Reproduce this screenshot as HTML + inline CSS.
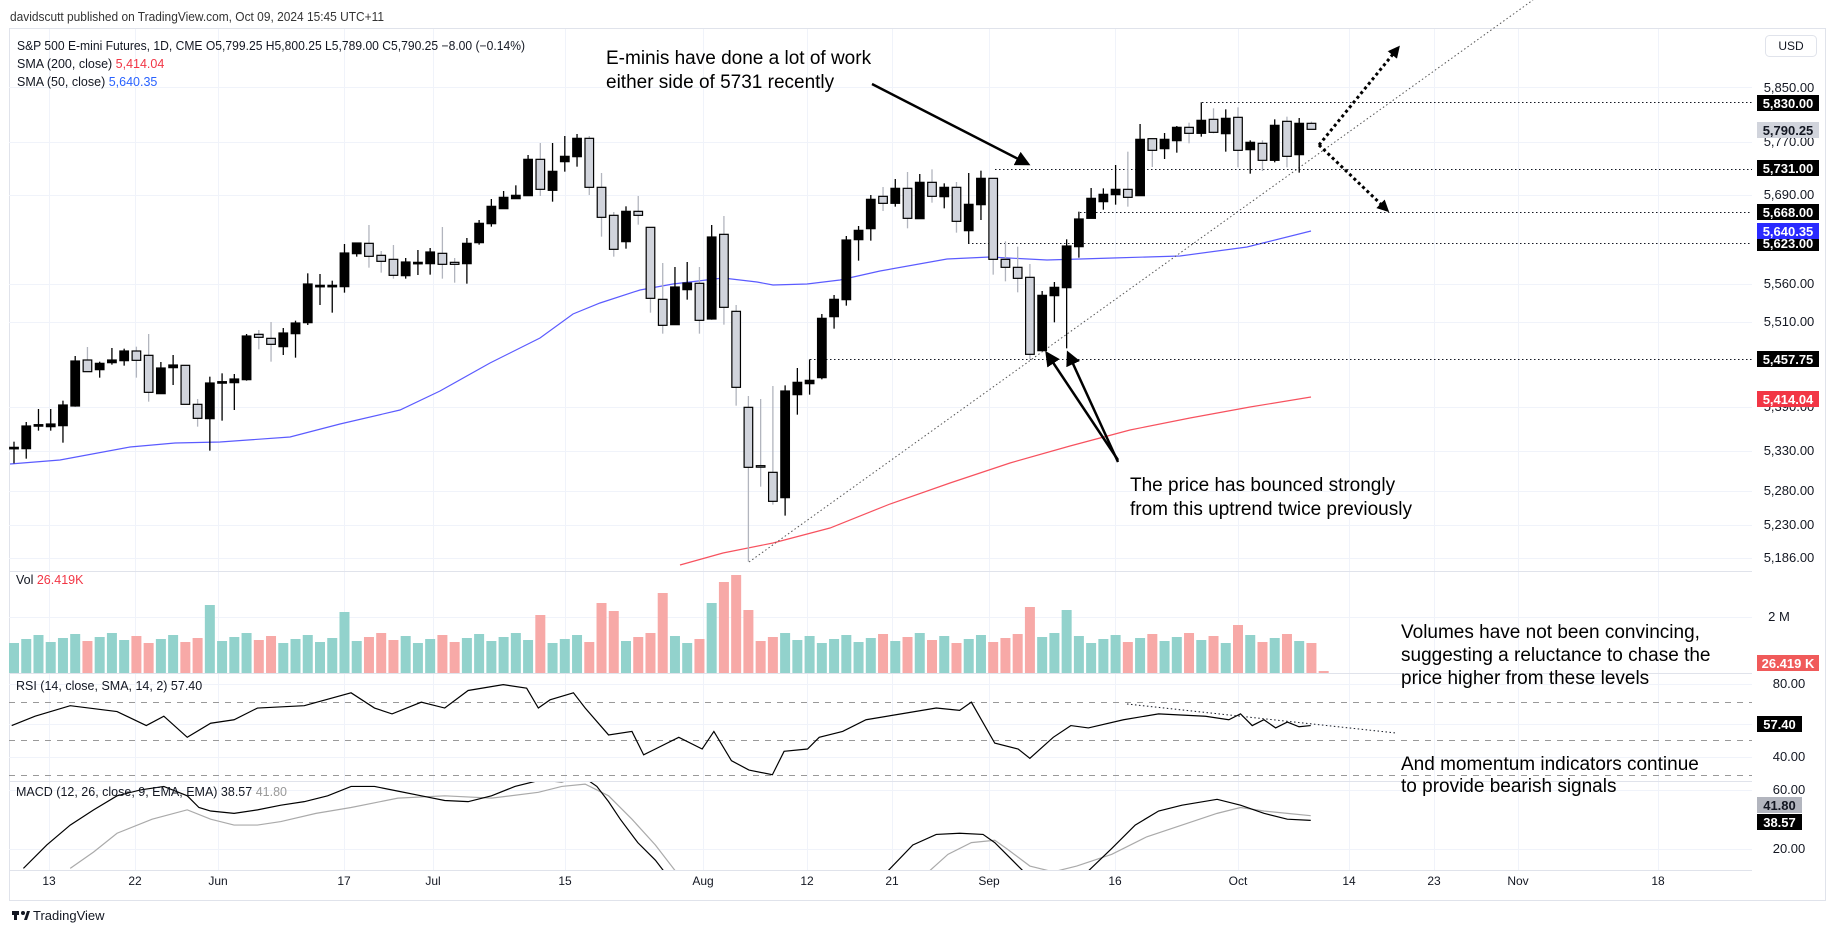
<!DOCTYPE html>
<html><head><meta charset="utf-8"><style>
html,body{margin:0;padding:0;background:#fff;}
svg{display:block;font-family:"Liberation Sans",sans-serif;}
</style></head><body>
<svg id="s" width="1835" height="931" viewBox="0 0 1835 931" xmlns="http://www.w3.org/2000/svg">
<rect width="1835" height="931" fill="#fff"/>
<text x="10" y="21" font-size="13" fill="#333" textLength="374" lengthAdjust="spacingAndGlyphs">davidscutt published on TradingView.com, Oct 09, 2024 15:45 UTC+11</text>
<rect x="9.5" y="28.5" width="1816" height="872" fill="none" stroke="#e0e3eb"/>
<g id="grid" stroke="#f0f3fa" stroke-width="1"></g>
<g stroke="#e0e3eb"><line x1="9" y1="571.5" x2="1826" y2="571.5"/><line x1="9" y1="673.5" x2="1826" y2="673.5"/><line x1="9" y1="781.5" x2="1826" y2="781.5"/><line x1="9" y1="870.5" x2="1752" y2="870.5"/></g>
<g id="vol"></g>
<g id="lines" fill="none"></g>
<g id="candles"></g>
<g id="ann"></g>
<!-- legend -->
<text x="17" y="50" font-size="12.5" fill="#131722" textLength="508" lengthAdjust="spacingAndGlyphs">S&amp;P 500 E-mini Futures, 1D, CME  O5,799.25  H5,800.25  L5,789.00  C5,790.25  −8.00 (−0.14%)</text>
<text x="17" y="68" font-size="12.5" fill="#131722">SMA (200, close) <tspan fill="#f23645">5,414.04</tspan></text>
<text x="17" y="86" font-size="12.5" fill="#131722">SMA (50, close) <tspan fill="#2962ff">5,640.35</tspan></text>
<text x="16" y="584" font-size="12.5" fill="#131722">Vol <tspan fill="#f23645">26.419K</tspan></text>
<text x="16" y="690" font-size="12.5" fill="#131722">RSI (14, close, SMA, 14, 2) <tspan>57.40</tspan></text>
<text x="16" y="796" font-size="12.5" fill="#131722">MACD (12, 26, close, 9, EMA, EMA) <tspan>38.57</tspan> <tspan fill="#999">41.80</tspan></text>
<!-- annotations text -->
<g font-size="19" fill="#000">
<text x="606" y="64">E-minis have done a lot of work</text>
<text x="606" y="88">either side of 5731 recently</text>
<text x="1130" y="491">The price has bounced strongly</text>
<text x="1130" y="515">from this uptrend twice previously</text>
<text x="1401" y="638">Volumes have not been convincing,</text>
<text x="1401" y="661">suggesting a reluctance to chase the</text>
<text x="1401" y="684">price higher from these levels</text>
<text x="1401" y="770">And momentum indicators continue</text>
<text x="1401" y="792">to provide bearish signals</text>
</g>
<!-- axis -->
<rect x="1752" y="29" width="73" height="871" fill="#fff"/>
<rect x="1765.5" y="35.5" width="51" height="21" rx="4" fill="#fff" stroke="#e0e3eb"/>
<text x="1791" y="50" font-size="12" text-anchor="middle" fill="#131722">USD</text>
<g font-size="13" fill="#131722" text-anchor="middle">
<text x="1789" y="92">5,850.00</text><text x="1789" y="146">5,770.00</text><text x="1789" y="199">5,690.00</text>
<text x="1789" y="288">5,560.00</text><text x="1789" y="326">5,510.00</text><text x="1789" y="411">5,390.00</text>
<text x="1789" y="455">5,330.00</text><text x="1789" y="495">5,280.00</text><text x="1789" y="529">5,230.00</text>
<text x="1789" y="562">5,186.00</text>
<text x="1779" y="621">2 M</text>
<text x="1789" y="688">80.00</text><text x="1789" y="761">40.00</text>
<text x="1789" y="794">60.00</text><text x="1789" y="853">20.00</text>
</g>
<g id="badges" font-size="13" font-weight="bold" text-anchor="middle"></g>
<g font-size="12" fill="#131722" text-anchor="middle">
<text x="49" y="885">13</text><text x="135" y="885">22</text><text x="218" y="885">Jun</text><text x="344" y="885">17</text>
<text x="433" y="885">Jul</text><text x="565" y="885">15</text><text x="703" y="885">Aug</text><text x="807" y="885">12</text>
<text x="892" y="885">21</text><text x="989" y="885">Sep</text><text x="1115" y="885">16</text><text x="1238" y="885">Oct</text>
<text x="1349" y="885">14</text><text x="1434" y="885">23</text><text x="1518" y="885">Nov</text><text x="1658" y="885">18</text>
</g>
<g transform="translate(12,909)"><rect x="0" y="2" width="7" height="4" fill="#131722"/><rect x="2" y="2" width="3" height="9" fill="#131722"/><circle cx="11" cy="4" r="2" fill="#131722"/><path d="M12 11 L15 2 L18 2 L15 11Z" fill="#131722"/></g>
<text x="33" y="920" font-size="13" fill="#131722">TradingView</text>
</svg>
<script>
var NS="http://www.w3.org/2000/svg";
function el(p,t,a){var e=document.createElementNS(NS,t);for(var k in a)e.setAttribute(k,a[k]);p.appendChild(e);return e;}
var g=document.getElementById('grid');
[87,142,195,284,322,407,451,491,525,558,617,684,724,757,790,849].forEach(function(y){el(g,'line',{x1:9,x2:1752,y1:y+.5,y2:y+.5});});
[49,135,218,344,433,565,703,807,892,989,1115,1238,1349,1434,1518,1658].forEach(function(x){el(g,'line',{x1:x+.5,x2:x+.5,y1:29,y2:870});});
var A=[[1012,1016,1,995,1060],[948,1016,1,936,1046],[944,948,1,897,962],[942,950,1,897,962],[885,947,1,872,998],[753,888,1,738,890],[750,785,0,711,785],[760,779,1,755,803],[750,758,1,714,764],[723,752,1,716,767],[723,751,0,710,803],[736,847,0,672,875],[774,851,1,756,851],[765,773,1,735,825],[766,883,0,766,883],[883,925,0,867,950],[819,926,1,800,1022],[815,819,1,790,932],[807,818,1,792,900],[678,809,1,672,812],[673,682,0,660,718],[685,703,0,636,755],[669,710,1,654,735],[639,671,1,632,743],[522,638,1,490,645],[526,530,1,492,585],[526,530,1,512,608],[429,530,1,402,548],[399,431,1,399,440],[400,439,0,345,473],[436,454,0,423,488],[448,496,0,405,506],[456,497,1,444,506],[457,461,1,420,495],[426,461,1,414,494],[430,463,0,351,506],
[457,463,0,444,518],[400,461,1,384,521],[340,398,1,330,404],[289,341,1,267,350],[262,296,1,243,296],[256,266,1,226,266],[148,257,1,135,257],[148,238,0,99,258],[184,241,1,99,275],[139,155,1,78,185],[85,140,1,72,170],[85,232,0,78,255],[232,322,0,189,380],[316,418,0,306,440],[304,395,1,289,416],[304,316,0,258,344],[352,565,0,352,608],[568,646,0,459,671],[531,644,1,471,644],[519,539,1,456,569],[520,631,0,471,671],[381,627,1,345,629],[373,592,0,318,644],[604,832,0,585,887],[892,1072,0,858,1355],[1067,1071,0,867,1130],[1087,1174,0,828,1184],[843,1163,1,826,1217],[817,854,1,774,914],[811,821,1,748,854],[625,803,1,612,808],[568,620,1,555,656],[390,569,1,378,587],[361,389,1,348,452],[268,356,1,255,392],[259,280,0,231,303]];
var C=[[325,370,1,297,380],[325,415,0,276,445],[307,416,1,282,416],[307,349,0,268,368],[322,350,1,310,385],[322,424,0,306,458],[373,452,1,279,490],[295,374,1,272,420],[295,538,0,295,584],[538,562,0,484,604],[562,595,0,500,637],[592,823,0,552,838],[646,812,1,633,812],[622,647,1,606,727],[498,623,1,478,805],[417,500,1,395,533],[355,415,1,324,415],[343,365,1,325,389],[328,344,1,255,374],[328,352,0,215,380],[178,347,1,132,347],[176,211,0,176,261],[178,206,1,159,237],[142,182,1,138,218],[142,160,0,128,190],[121,160,1,67,170],[118,157,0,85,160],[115,161,1,88,215],[112,211,0,82,262],[187,209,1,181,281],[190,241,0,181,273],[136,241,1,118,247],[124,229,0,110,262],[130,224,1,114,278],[130,148,0,125,148]];
var bars=[];A.forEach(function(b){bars.push(b.map(function(v,i){return i==2?v:110+v/3;}));});
C.forEach(function(b){bars.push(b.map(function(v,i){return i==2?v:80+v/3;}));});
var cg=document.getElementById('candles'),vg=document.getElementById('vol');
var spikes={17:68,28:61,44:58,49:70,50:62,54:80,58:70,59:91,60:98,61:63,84:66,87:63,101:48};
bars.forEach(function(b,i){
 var x=14+i*12.24,up=b[2]==1;
 el(cg,'line',{x1:x,x2:x,y1:b[3],y2:b[4],stroke:up?'#000':'#b2b5be','stroke-width':1.3});
 var h=Math.max(b[1]-b[0],1.5);
 el(cg,'rect',{x:x-4.3,y:b[0],width:8.6,height:h,fill:up?'#000':'#d1d4dc',stroke:'#000','stroke-width':1.2});
 var vh=spikes[i+1]||(32+((i*37)%11)-2);
 if(i==106)vh=30;
 el(vg,'rect',{x:x-5,y:673-vh,width:10,height:vh,fill:up?'#92d2cc':'#f7a9a7'});
});
el(vg,'rect',{x:14+107*12.24-5,y:671,width:10,height:2,fill:'#f7a9a7'});
var lg=document.getElementById('lines');
function pl(pts,st,w,extra){var a={points:pts.map(function(p){return p.join(',');}).join(' '),stroke:st,'stroke-width':w,fill:'none'};for(var k in extra)a[k]=extra[k];return el(lg,'polyline',a);}
pl([[10,464],[60,460],[130,447],[175,443],[220,442],[290,437],[340,424],[400,410],[440,391],[490,363],[540,338],[573,314],[600,303],[640,290],[673,284],[723,278],[757,282],[773,285],[807,284],[840,280],[880,271],[947,259],[990,257],[1047,260],[1113,258],[1180,256],[1247,247],[1311,231]],'#5b5bff',1.2);
pl([[680,565],[723,553],[773,543],[830,528],[890,504],[950,483],[1010,463],[1070,446],[1130,430],[1190,418],[1250,407],[1311,397]],'#f7525f',1.2);
var D={stroke:'#131722','stroke-width':1,'stroke-dasharray':'1.5,2.5'};
[[1202,102],[995,169],[1080,212],[968,243],[810,359]].forEach(function(p){var a={x1:p[0],x2:1752,y1:p[1]+.5,y2:p[1]+.5};for(var k in D)a[k]=D[k];el(lg,'line',a);});
var a0={x1:749,y1:562,x2:1533,y2:0};for(var k in D)a0[k]=D[k];a0.stroke='#555';el(lg,'line',a0);
[702,740,775].forEach(function(y){el(lg,'line',{x1:9,x2:1752,y1:y+.5,y2:y+.5,stroke:'#999','stroke-dasharray':'6,6'});});
var r=[[10,620],[30,612],[60,603],[100,608],[125,620],[140,612],[160,630],[180,618],[200,615],[220,605],[260,603],[300,592],[320,605],[335,610],[360,600],[380,605],[400,590],[430,585],[450,588],[460,605],[470,598],[490,592],[500,605],[520,628],[540,625],[550,645],[560,640],[580,630],[600,640],[610,625],[625,650],[640,658],[660,662],[670,642],[690,640],[700,630],[720,625],[740,615],[770,610],[800,605],[820,607],[830,600],[850,635],[870,640],[880,648],[900,630],[915,620],[930,622],[960,615],[990,610],[1030,612],[1050,615],[1060,610],[1070,620],[1080,615],[1090,622],[1100,617],[1110,621],[1120,620]];
pl(r.map(function(p){return [p[0]*1.1703,p[1]*1.1703];}),'#000',1.2);
var a1={x1:1127,y1:704,x2:1396,y2:733};for(var k in D)a1[k]=D[k];el(lg,'line',a1);
var cp=el(lg,'clipPath',{id:'mc'});el(cp,'rect',{x:9,y:782,width:1743,height:88});
var mg=el(lg,'g',{'clip-path':'url(#mc)'});
function mpl(pts,st){el(mg,'polyline',{points:pts.map(function(p){return (p[0]*1.1703)+','+(p[1]*1.1703);}).join(' '),stroke:st,'stroke-width':1.2,fill:'none'});}
mpl([[60,742],[80,728],[100,712],[130,700],[160,692],[180,700],[200,705],[220,705],[240,702],[270,695],[300,690],[340,682],[380,680],[420,682],[460,677],[480,672],[500,670],[520,680],[540,700],[560,722],[580,748]],'#aaa');
mpl([[790,748],[810,730],[830,720],[850,718],[860,725],[880,740],[900,745],[920,740],[950,730],[980,715],[1010,705],[1040,695],[1060,690],[1080,693],[1100,695],[1120,697]],'#aaa');
mpl([[20,742],[40,722],[60,705],[80,692],[100,680],[120,675],[140,672],[160,680],[170,690],[180,693],[200,695],[220,692],[240,688],[260,685],[280,680],[300,672],[320,672],[340,676],[360,680],[380,684],[400,685],[420,680],[440,672],[460,667],[480,668],[500,665],[510,672],[520,685],[530,700],[545,720],[560,735],[570,748]],'#000');
mpl([[755,748],[780,722],[800,713],[820,712],[840,713],[850,720],[860,730],[870,740],[878,748]],'#000');
mpl([[926,748],[950,725],[970,705],[990,693],[1010,688],[1040,683],[1060,688],[1080,695],[1100,700],[1120,701]],'#000');
var an=document.getElementById('ann');
var defs=el(an,'defs',{});var mk=el(defs,'marker',{id:'ah',markerWidth:6,markerHeight:6,refX:4,refY:3,orient:'auto',markerUnits:'strokeWidth'});el(mk,'path',{d:'M0,0 L6,3 L0,6 Z',fill:'#000'});
var mk2=el(defs,'marker',{id:'ah2',markerWidth:4,markerHeight:4,refX:3,refY:2,orient:'auto',markerUnits:'strokeWidth'});el(mk2,'path',{d:'M0,0 L4,2 L0,4 Z',fill:'#000'});
el(an,'line',{x1:872,y1:84,x2:1026,y2:163,stroke:'#000','stroke-width':2.5,'marker-end':'url(#ah)'});
el(an,'line',{x1:1118,y1:460,x2:1048,y2:355,stroke:'#000','stroke-width':2.5,'marker-end':'url(#ah)'});
el(an,'line',{x1:1118,y1:462,x2:1069,y2:355,stroke:'#000','stroke-width':2.5,'marker-end':'url(#ah)'});
el(an,'line',{x1:1319,y1:145,x2:1398,y2:48,stroke:'#000','stroke-width':3,'stroke-dasharray':'3,3','marker-end':'url(#ah2)'});
el(an,'line',{x1:1319,y1:145,x2:1387,y2:210,stroke:'#000','stroke-width':3,'stroke-dasharray':'3,3','marker-end':'url(#ah2)'});
var bg=document.getElementById('badges');
[[103,'5,830.00','#000','#fff'],[130,'5,790.25','#d1d4dc','#131722'],[168,'5,731.00','#000','#fff'],[212,'5,668.00','#000','#fff'],[243,'5,623.00','#000','#fff'],[231,'5,640.35','#2a2aff','#fff'],[359,'5,457.75','#000','#fff'],[399,'5,414.04','#f23645','#fff'],[663,'26.419 K','#f05a5a','#fff'],[724,'57.40','#000','#fff'],[805,'41.80','#b2b5be','#131722'],[822,'38.57','#000','#fff']].forEach(function(b){
 var w=b[1].length>6?62:45;
 el(bg,'rect',{x:1757,y:b[0]-8,width:w,height:16,fill:b[2]});
 var t=el(bg,'text',{x:1757+w/2,y:b[0]+5,fill:b[3]});t.textContent=b[1];
});
</script>
</body></html>
